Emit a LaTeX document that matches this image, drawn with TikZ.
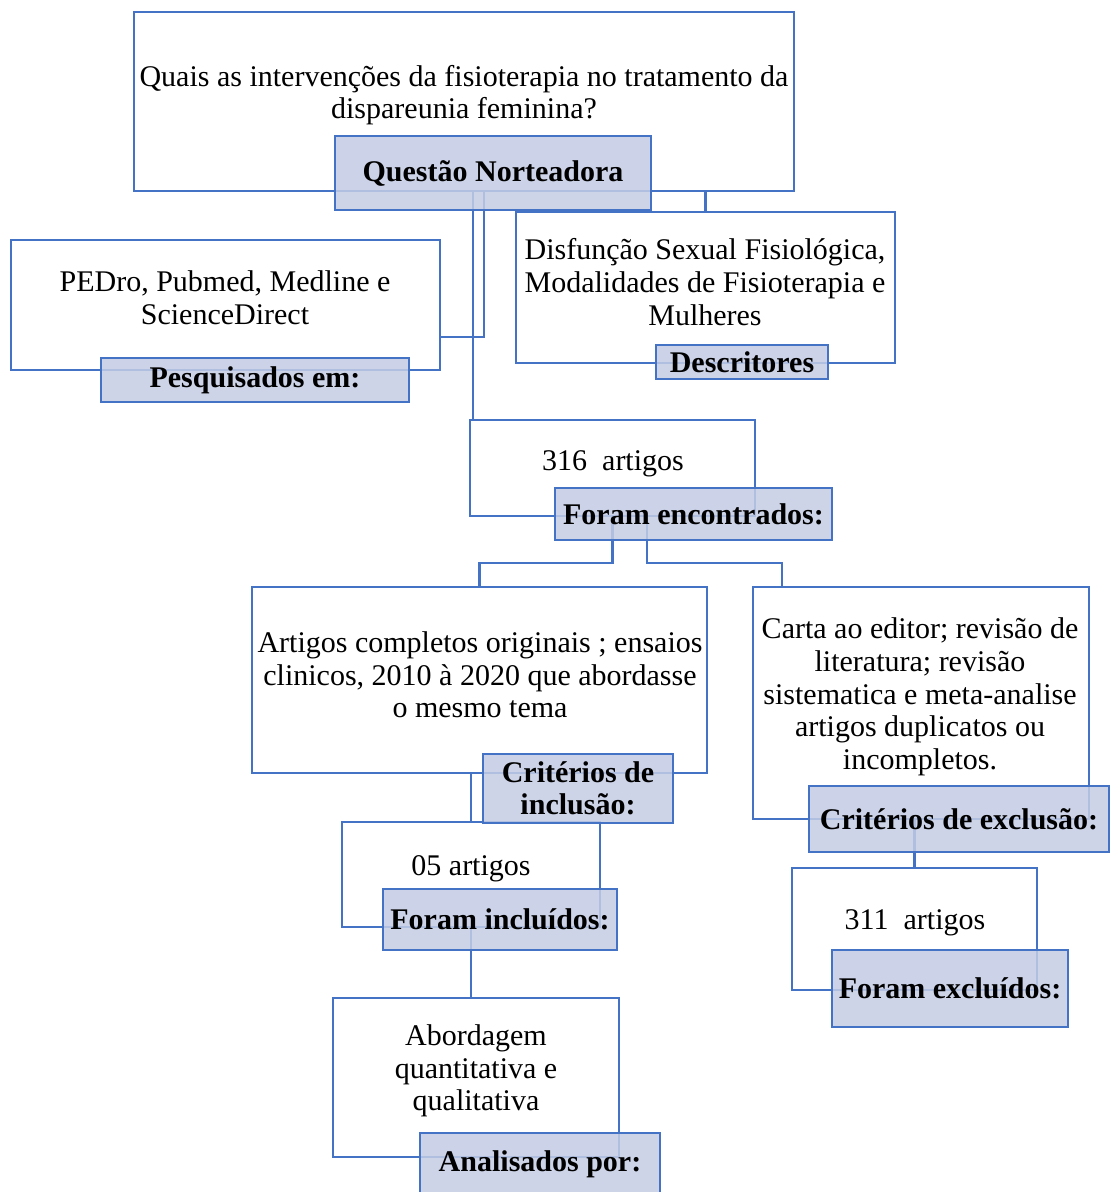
\documentclass[tikz,border=0pt]{standalone}
\usepackage{fontspec}
\setmainfont{Liberation Serif}
\definecolor{boxblue}{RGB}{68,114,196}
\definecolor{tagfill}{RGB}{196,204,228}

\begin{document}
\begin{tikzpicture}[
    x = 0.75pt, y = -0.75pt,
    wh/.style 2 args = {minimum width=#1*0.75pt, minimum height=#2*0.75pt},
    frame/.style = {draw=boxblue, line width=1.8pt, fill=white, inner sep=0pt},
    tag/.style = {draw=boxblue, line width=1.8pt, fill=tagfill, fill opacity=0.85, text opacity=1, inner sep=0pt, align=center, font=\fontsize{22.5pt}{24pt}\selectfont\bfseries},
    txt/.style = {align=center, inner sep=0pt, font=\fontsize{22.5pt}{24.5pt}\selectfont},
    link/.style = {draw=boxblue, line width=1.8pt}
]
    \useasboundingbox (0,0) rectangle (1111,1192);

    % frames
    \node[frame, wh={660}{179}] (qbox) at (464,101.5) {};
    \node[frame, wh={429}{130}] (pesq) at (225.5,305) {};
    \node[frame, wh={379}{151}] (desc) at (705.5,287.5) {};
    \node[frame, wh={285}{96}] (found) at (612.5,468) {};
    \node[frame, wh={455}{186}] (incl) at (479.5,680) {};
    \node[frame, wh={336}{232}] (excl) at (921,703) {};
    \node[frame, wh={258}{105}] (incbox) at (471,874.5) {};
    \node[frame, wh={245}{122}] (excbox) at (914.5,929) {};
    \node[frame, wh={286}{159}] (abord) at (476,1077.5) {};

    \node[txt] (qtext) at (464,95) {Quais as intervenções da fisioterapia no tratamento da\\dispareunia feminina?};
    \node[txt] (pesqtext) at (225,298) {PEDro, Pubmed, Medline e\\ScienceDirect};
    \node[txt] (desctext) at (705,282) {Disfunção Sexual Fisiológica,\\Modalidades de Fisioterapia e\\Mulheres};
    \node[txt] (foundtext) at (613,464) {316~ artigos};
    \node[txt] (incltext) at (480,675) {Artigos completos originais ; ensaios\\clinicos, 2010 à 2020 que abordasse\\o mesmo tema};
    \node[txt] (excltext) at (920,697) {Carta ao editor; revisão de\\literatura; revisão\\sistematica e meta-analise\\artigos duplicatos ou\\incompletos.};
    \node[txt] (inctext) at (471,869) {05 artigos};
    \node[txt] (exctext) at (915,923) {311~ artigos};
    \node[txt] (abordtext) at (476,1071) {Abordagem\\quantitativa e\\qualitativa};

    % connectors
    \draw[link] ([xshift=15pt]qbox.south) |- ([yshift=-24pt]pesq.east);
    \coordinate (qdrop) at ([xshift=6.75pt]qbox.south);
    \draw[link] (qdrop) -- (qdrop |- found.north);
    \draw[link] (desc.north) -- (desc.north |- qbox.south);
    \draw[link] (found.south) -- ++(0,46) -| (incl.north);
    \coordinate (fdrop) at ([xshift=25.9pt]found.south);
    \draw[link] (fdrop) -- ++(0,46) -| ([xshift=-104.25pt]excl.north);
    \draw[link] (incbox.north) -- (incbox.north |- incl.south);
    \draw[link] (incbox.south) -- (incbox.south |- abord.north);
    \draw[link] (excbox.north) -- (excbox.north |- excl.south);

    % tags
    \node[tag, wh={316}{74}] (qtag) at (493,173) {Questão Norteadora};
    \node[tag, wh={308}{44}] (pesqtag) at (255,380) {Pesquisados em:};
    \node[tag, wh={172}{34}] (desctag) at (742,362) {Descritores};
    \node[tag, wh={277}{52}] (foundtag) at (693.5,514) {Foram encontrados:};
    \node[tag, wh={190}{69}] (incltag) at (578,788.5) {Critérios de\\inclusão:};
    \node[tag, wh={300}{66}] (excltag) at (959,819) {Critérios de exclusão:};
    \node[tag, wh={234}{61}] (inctag) at (500,919.5) {Foram incluídos:};
    \node[tag, wh={236}{77}] (exctag) at (950,988.5) {Foram excluídos:};
    \node[tag, wh={240}{63}] (abordtag) at (540,1164.5) {Analisados por:};
\end{tikzpicture}
\end{document}
